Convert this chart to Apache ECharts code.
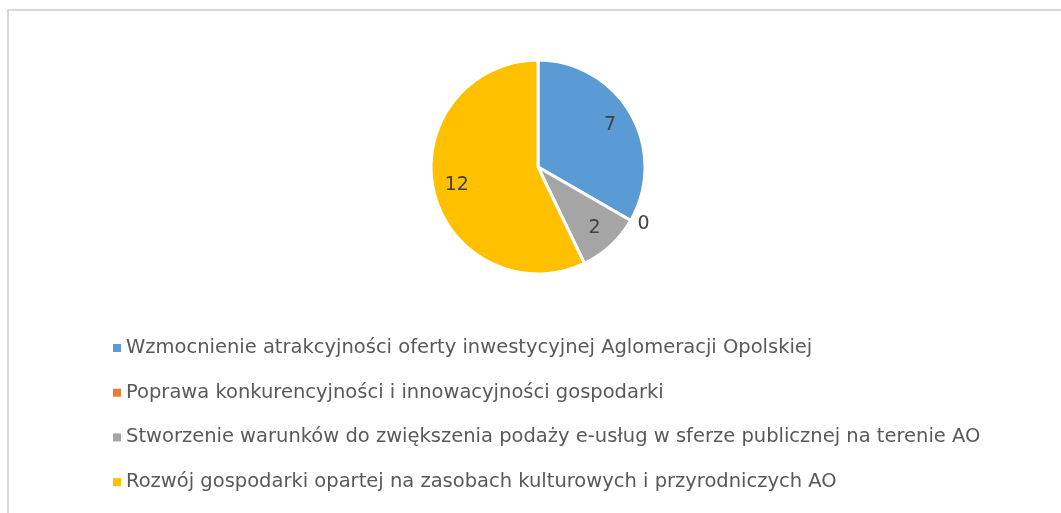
<!DOCTYPE html>
<html><head><meta charset="utf-8">
<script src="https://cdn.jsdelivr.net/npm/echarts@6/dist/echarts.min.js"></script>
<style>html,body{margin:0;padding:0;background:#fff}#c{width:1061px;height:513px}</style>
</head><body><div id="c"></div>
<script>
const categories = [
  'Wzmocnienie atrakcyjności oferty inwestycyjnej Aglomeracji Opolskiej',
  'Poprawa konkurencyjności i innowacyjności gospodarki',
  'Stworzenie warunków do zwiększenia podaży e-usług w sferze publicznej na terenie AO',
  'Rozwój gospodarki opartej na zasobach kulturowych i przyrodniczych AO'
];
const values = [7, 0, 2, 12];
const colors = ['#5B9BD5', '#ED7D31', '#A5A5A5', '#FFC000'];

const FONT = '"DejaVu Sans", sans-serif';
const chart = echarts.init(document.getElementById('c'), null, {renderer: 'canvas'});
const R = 107;
const center = [538, 167];
chart.setOption({
  animation: false,
  color: colors,
  graphic: [{
    type: 'rect', shape: {x: 8, y: 10, width: 1200, height: 700},
    style: {fill: 'none', stroke: '#D9D9D9', lineWidth: 2}, silent: true, z: -1
  }],
  legend: {
    orient: 'vertical', left: 113, top: 338, padding: 0,
    data: categories,
    icon: 'rect', itemWidth: 8, itemHeight: 8, itemGap: 24.7,
    itemStyle: {borderWidth: 0},
    textStyle: {fontFamily: FONT, fontSize: 19.5, color: '#595959', lineHeight: 20}
  },
  series: [{
    type: 'pie', center: center, radius: [0, R], startAngle: 90, clockwise: true,
    label: {show: false}, labelLine: {show: false},
    itemStyle: {borderColor: '#fff', borderWidth: 3},
    emphasis: {disabled: true},
    data: categories.map((n, i) => ({name: n, value: values[i]}))
  }, {
    type: 'pie', center: center, radius: [R / 2, R], startAngle: 90, clockwise: true,
    silent: true, legendHoverLink: false,
    itemStyle: {color: 'transparent', borderWidth: 0},
    label: {show: true, position: 'inside', formatter: '{c}', fontFamily: FONT, fontSize: 19, color: '#404040'},
    labelLine: {show: false, length: 8, length2: 0},
    emphasis: {disabled: true},
    data: categories.map((n, i) => ({
      name: n, value: values[i],
      label: values[i] === 0 ? {position: 'outside', distanceToLabelLine: 0} : undefined
    }))
  }]
});
</script></body></html>
